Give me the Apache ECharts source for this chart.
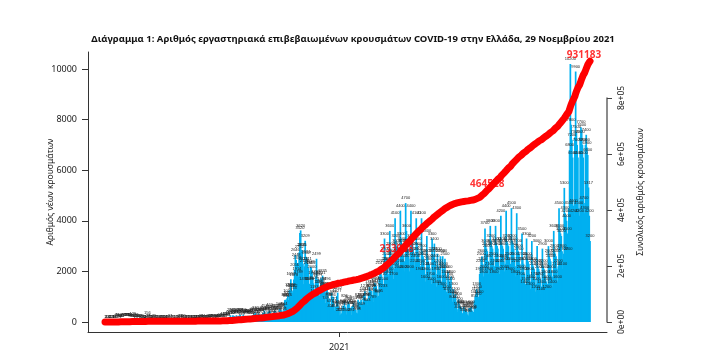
<!DOCTYPE html>
<html><head><meta charset="utf-8">
<script src="https://cdn.jsdelivr.net/npm/echarts@6/dist/echarts.min.js"></script>
<style>html,body{margin:0;padding:0;background:#fff}#c{width:716px;height:364px}</style>
</head><body><div id="c"></div>
<script>
// ---- data (daily new cases, by month) ----
const firstDay = [2020, 1, 26]; // 26 Feb 2020
const cases2020Feb = [1,2,1,0];
const cases2020Mar = [3,0,1,2,22,14,21,7,11,16,10,27,73,38,103,21,52,31,46,31,76,94,71,74,78,71,75,95,73,64,49];
const cases2020Apr = [102,41,129,62,56,62,20,81,25,56,60,27,19,17,25,15,20,14,2,10,16,156,27,39,17,11,12,20,13,15];
const cases2020May = [29,4,6,9,2,10,10,16,6,7,3,16,10,11,13,10,4,3,17,5,3,27,4,4,7,6,3,1,2,4,3];
const cases2020Jun = [1,3,6,27,18,50,9,15,26,12,16,2,7,10,9,2,15,10,9,6,13,15,12,22,18,6,21,18,22,14];
const cases2020Jul = [19,26,24,21,31,18,17,13,12,18,13,25,20,38,29,17,25,27,34,21,23,38,23,34,41,50,65,53,39,78,43];
const cases2020Aug = [110,37,31,110,121,80,93,151,203,262,150,153,262,254,230,203,169,269,217,189,236,268,284,147,129,184,293,224,235,212,196];
const cases2020Sep = [169,244,223,233,214,144,162,273,265,306,235,372,138,211,217,338,280,291,263,227,120,358,319,453,309,283,169,306,411,347];
const cases2020Oct = [460,405,314,194,248,308,436,354,421,373,319,257,342,508,454,461,459,359,316,504,865,882,841,935,1027,866,1259,1211,1690,1259,1153];
const cases2020Nov = [1232,1678,2056,2646,2448,1914,2331,1789,2752,3520,3620,2835,2835,2311,1498,2198,3209,2581,2547,2311,2131,1509,1498,2186,2152,2000,1747,1529,1193,1044];
const cases2020Dec = [1789,2499,1686,1677,1395,1023,1383,1731,1498,1835,1284,1263,1315,749,1496,1291,1190,861,932,637,458,1155,886,998,722,458,606,540,1027,1162,612];
const cases2021Jan = [262,497,293,341,544,646,586,826,604,507,300,670,807,726,554,564,281,625,608,763,539,450,482,370,338,878,747,790,809,883,509];
const cases2021Feb = [706,1030,1093,1218,874,876,663,906,1120,1380,1258,1216,1229,1056,789,1384,1553,1508,1421,1279,997,1035,1789,2147,2205,1846,1710,1233];
const cases2021Mar = [1500,3300,2700,2300,2500,2300,1800,1900,3600,2900,2600,2500,2300,1700,2100,4100,3200,3000,2900,2700,2000,2200,4400,3300,3100,3000,2600,2000,2400,4700,3600];
const cases2021Apr = [3000,2900,2600,2000,2500,4400,3200,3100,2900,2700,2200,2400,4100,3100,2900,2700,2500,1900,2200,4100,2800,2600,2500,2100,1600,1900,3400,2600,2400,2300];
const cases2021May = [2100,1700,1500,3300,2700,2600,3100,2400,1900,1400,2700,2200,2100,2000,2600,1600,1300,2600,2100,2000,2500,1800,1200,1100,2000,1700,1600,1500,1800,1000,800];
const cases2021Jun = [1300,1000,900,1100,800,500,400,900,700,600,600,550,350,300,600,500,450,450,400,300,250,550,500,550,600,450,350,400,850,1000];
const cases2021Jul = [1100,1300,1200,900,1000,1900,2200,2500,2600,2300,1800,2000,3700,3000,2900,2800,2400,1900,2100,3800,3200,3000,2900,2500,1800,2200,3800,3100,3000,2900,2400];
const cases2021Aug = [1900,2200,4200,3100,3000,2900,2400,2000,2300,4400,3200,3100,3000,2500,1900,2300,4500,3200,3100,2900,2500,1800,2200,4300,3000,2800,2700,2300,1700,2000,3500];
const cases2021Sep = [2500,2300,1900,1400,1500,3300,2500,2400,2300,1900,1300,1600,3200,2300,2200,2100,1700,1200,1500,3000,2200,2100,2000,1700,1100,1400,2900,2200,2100,2000];
const cases2021Oct = [1800,1600,1200,1500,3000,2600,2500,2400,2000,1400,1800,3600,2800,2700,2600,2100,1600,2200,4500,3600,3500,3400,2800,2100,2700,5300,4300,4200,4000,3500,2700];
const cases2021Nov = [4500,6800,10200,7800,7200,6500,4600,4200,7300,9900,7500,7000,6500,4500,4200,7300,7700,7600,7000,6500,4700,4300,7000,7400,6900,6600,5317,4200,3200];

const leftTicks = [0,2000,4000,6000,8000,10000];
const rightTicks = [0,200000,400000,600000,800000];
const rightTickLabels = ['0e+00','2e+05','4e+05','6e+05','8e+05'];
const xTickDates = [[2021,0,1]];
const xTickLabels = ['2021'];
const cumLabelDates = [[2021,2,18],[2021,6,16],[2021,10,29]];
const cumLabelTexts = ['233908','464528','931183'];

const titleText = 'Διάγραμμα 1: Αριθμός εργαστηριακά επιβεβαιωμένων κρουσμάτων COVID-19 στην Ελλάδα, 29 Νοεμβρίου 2021';
const leftName = 'Αριθμός νέων κρουσμάτων';
const rightName = 'Συνολικός αριθμός κρουσμάτων';

// ---- build ----
const daily = [].concat(cases2020Feb,cases2020Mar,cases2020Apr,cases2020May,cases2020Jun,cases2020Jul,
  cases2020Aug,cases2020Sep,cases2020Oct,cases2020Nov,cases2020Dec,cases2021Jan,cases2021Feb,cases2021Mar,
  cases2021Apr,cases2021May,cases2021Jun,cases2021Jul,cases2021Aug,cases2021Sep,cases2021Oct,cases2021Nov);
const DAY = 86400000;
const t0 = Date.UTC(firstDay[0], firstDay[1], firstDay[2]);
const dayOf = d => Math.round((Date.UTC(d[0], d[1], d[2]) - t0) / DAY);
const days = daily.map((_, i) => i);             // day index since 26 Feb 2020
const cum = [];
daily.reduce((s, v, i) => { cum[i] = s + v; return cum[i]; }, 0);
const lastDay = days[days.length - 1];
const xMin = -22.5, xMax = lastDay + 22.5;
const xTicks = xTickDates.map(dayOf);

const labelIdx = cumLabelDates.map(dayOf);
const labelPts = labelIdx.map((idx, k) => ({
  value: [days[idx], cum[idx]],
  label: { formatter: cumLabelTexts[k], offset: (k === labelIdx.length - 1) ? [-6, 0] : [0, 0] }
}));

const FONT = 'Noto Sans';
const chart = echarts.init(document.getElementById('c'));
chart.setOption({
  animation: false,
  backgroundColor: '#fff',
  title: { text: titleText, left: 348, top: 29, textAlign: 'center',
    textStyle: { fontFamily: FONT, fontSize: 9.5, fontWeight: 'bold', color: '#111' } },
  grid: [
    { left: 88, right: 109, top: 52, bottom: 32 },
    { left: 88, right: 109, top: 98, bottom: 42 }
  ],
  xAxis: [
    { type: 'value', gridIndex: 0, min: xMin, max: xMax,
      axisLine: { show: true, onZero: false, lineStyle: { color: '#333', width: 1 } },
      axisTick: { show: true, customValues: xTicks, length: 5, lineStyle: { color: '#333' } },
      axisLabel: { customValues: xTicks, margin: 11, fontSize: 9, color: '#222', fontFamily: FONT,
        formatter: v => xTickLabels[xTicks.indexOf(v)] },
      splitLine: { show: false } },
    { type: 'value', gridIndex: 1, min: xMin, max: xMax, show: false }
  ],
  yAxis: [
    { type: 'value', gridIndex: 0, position: 'left', min: -395.3, max: 10671.9,
      splitLine: { show: false },
      axisLine: { show: true, onZero: false, lineStyle: { color: '#333', width: 1 } },
      axisTick: { show: true, customValues: leftTicks, length: 6, lineStyle: { color: '#333' } },
      axisLabel: { customValues: leftTicks, margin: 11, fontSize: 9, color: '#222', fontFamily: FONT,
        formatter: v => String(v) },
      name: leftName, nameLocation: 'middle', nameGap: 33, nameRotate: 90, nameMoveOverlap: false,
      nameTextStyle: { fontSize: 8.5, color: '#222', fontFamily: FONT } },
    { type: 'value', gridIndex: 0, position: 'right', min: -35714, max: 964286,
      splitLine: { show: false }, axisLine: { show: false, onZero: false }, axisTick: { show: false }, axisLabel: { show: false },
      name: rightName, nameLocation: 'middle', nameGap: 29, nameRotate: 90, nameMoveOverlap: false,
      nameTextStyle: { fontSize: 8.5, color: '#222', fontFamily: FONT } },
    { type: 'value', gridIndex: 1, position: 'right', min: 0, max: 800000,
      splitLine: { show: false },
      axisLine: { show: true, onZero: false, lineStyle: { color: '#666', width: 1.5 } },
      axisTick: { show: true, customValues: rightTicks, length: 5, lineStyle: { color: '#444' } },
      axisLabel: { customValues: rightTicks, rotate: 90, margin: 10, fontSize: 8.5, color: '#222', fontFamily: FONT,
        formatter: v => rightTickLabels[rightTicks.indexOf(v)] } }
  ],
  series: [
    { type: 'bar', xAxisIndex: 0, yAxisIndex: 0, z: 2,
      data: days.map((d, i) => [d, daily[i]]),
      barWidth: 1.7, itemStyle: { color: '#00b0f0' },
      label: { show: true, position: 'top', distance: 3, fontSize: 4, color: '#222',
        formatter: p => p.value[1] },
      silent: true },
    { type: 'scatter', xAxisIndex: 0, yAxisIndex: 1, z: 4,
      data: labelPts, symbolSize: 0,
      label: { show: true, position: 'top', distance: 1, fontSize: 10, fontWeight: 'bold', color: '#ff0000', fontFamily: FONT },
      silent: true },
    { type: 'line', xAxisIndex: 0, yAxisIndex: 1, z: 5,
      data: days.map((d, i) => [d, cum[i]]),
      showSymbol: false, symbol: 'none', clip: false,
      lineStyle: { color: '#ff0000', width: 7, cap: 'round', join: 'round' },
      silent: true }
  ]
});
</script></body></html>
